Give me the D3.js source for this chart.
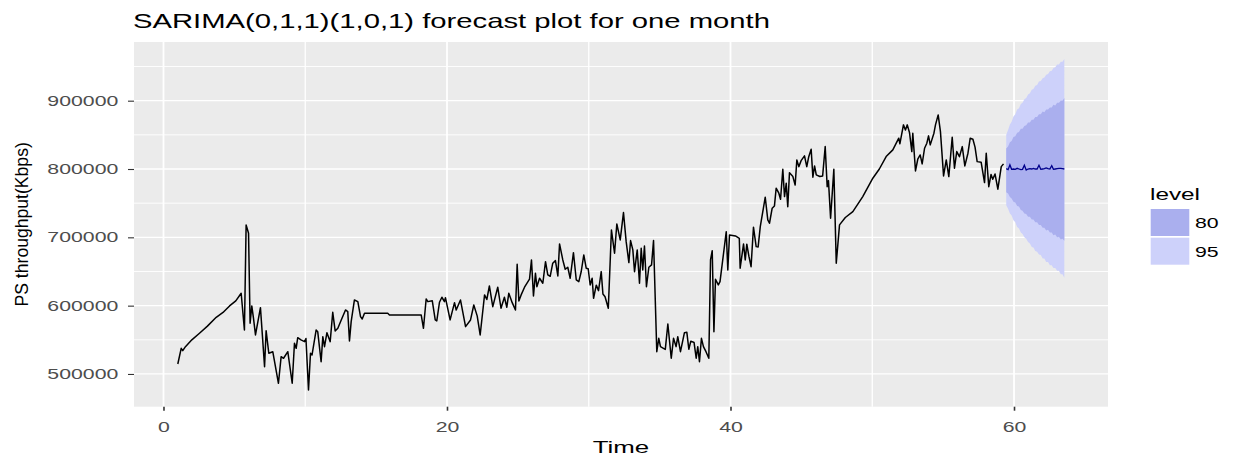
<!DOCTYPE html>
<html>
<head>
<meta charset="utf-8">
<script src="https://cdn.jsdelivr.net/npm/d3@7"></script>
<style>
  html, body { margin: 0; padding: 0; background: #ffffff; }
  svg { display: block; }
  text { font-family: "Liberation Sans", Arial, Helvetica, sans-serif; }
</style>
</head>
<body>
<svg id="chart" width="1233" height="457"></svg>
<script>
// ---------------- DATA ----------------
const chartTitle = "SARIMA(0,1,1)(1,0,1) forecast plot for one month";
const xLabel = "Time";
const yLabel = "PS throughput(Kbps)";
const legendTitle = "level";
const levels = ["80", "95"];
const levelColors = ["#aaafee", "#cdd1fa"];

const xTicks = [0, 20, 40, 60];
const xMinor = [10, 30, 50];
const yTicks = [500000, 600000, 700000, 800000, 900000];
const yMinor = [550000, 650000, 750000, 850000, 950000];

const histTime = [
  1.01, 1.25, 1.36, 1.55, 2.0, 2.54, 3.1, 3.72, 4.2, 4.66, 5.1, 5.48, 5.71, 5.83, 6.0, 6.11, 6.23, 6.35, 6.49, 6.84,
  7.13, 7.24, 7.43, 7.71, 8.11, 8.3, 8.47, 8.77, 9.08, 9.24, 9.36, 9.47, 9.7, 9.95, 10.05, 10.23, 10.37, 10.48, 10.77, 10.88,
  11.12, 11.24, 11.36, 11.53, 11.76, 11.94, 12.11, 12.3, 12.54, 12.84, 13.0, 13.12, 13.24, 13.47, 13.71, 13.9, 14.02, 14.18, 15.82, 15.94,
  18.18, 18.34, 18.53, 18.65, 18.96, 19.17, 19.28, 19.47, 19.64, 19.82, 19.89, 20.22, 20.53, 20.65, 20.95, 21.31, 21.66, 21.89, 22.13, 22.34,
  22.65, 22.81, 22.99, 23.23, 23.58, 23.81, 24.05, 24.22, 24.36, 24.6, 24.83, 24.95, 25.07, 25.23, 25.47, 25.82, 25.96, 26.1, 26.24, 26.34,
  26.53, 26.76, 26.95, 27.11, 27.28, 27.46, 27.65, 27.82, 27.94, 28.17, 28.34, 28.52, 28.69, 28.92, 29.12, 29.3, 29.47, 29.65, 29.82, 29.96,
  30.1, 30.24, 30.34, 30.53, 30.69, 30.88, 31.0, 31.15, 31.38, 31.6, 31.82, 31.98, 32.22, 32.45, 32.64, 32.83, 32.95, 33.11, 33.23, 33.42,
  33.58, 33.7, 33.81, 33.93, 34.07, 34.24, 34.43, 34.57, 34.8, 34.94, 35.06, 35.27, 35.4, 35.58, 35.82, 35.98, 36.16, 36.28, 36.47, 36.75,
  36.92, 37.06, 37.2, 37.43, 37.58, 37.69, 37.81, 37.95, 38.09, 38.27, 38.47, 38.59, 38.71, 38.83, 38.94, 39.14, 39.26, 39.7, 39.81, 39.93,
  40.35, 40.62, 40.68, 40.92, 41.04, 41.15, 41.3, 41.45, 41.62, 41.81, 41.95, 42.1, 42.45, 42.63, 42.75, 42.94, 43.1, 43.22, 43.41, 43.53,
  43.69, 43.81, 43.93, 44.04, 44.16, 44.4, 44.56, 44.68, 44.82, 44.98, 45.22, 45.38, 45.52, 45.69, 45.81, 45.93, 46.05, 46.3, 46.5, 46.68,
  46.82, 46.91, 47.06, 47.29, 47.46, 47.69, 48.1, 48.63, 49.33, 50.04, 50.5, 50.98, 51.45, 51.87, 51.95, 52.2, 52.34, 52.47, 52.63, 52.79,
  52.86, 53.05, 53.21, 53.38, 53.52, 53.69, 53.85, 53.97, 54.09, 54.35, 54.46, 54.65, 54.81, 55.03, 55.22, 55.4, 55.64, 55.8, 55.96, 56.15,
  56.35, 56.53, 56.75, 56.91, 57.1, 57.25, 57.4, 57.68, 57.92, 58.04, 58.22, 58.38, 58.5, 58.66, 58.86, 59.1, 59.26
];
const histValue = [
  514600, 537600, 534100, 540000, 550000, 559600, 570000, 583000, 590000, 599600, 607000, 618100, 564400, 718200, 706000, 574200, 599600, 581500, 557100, 597100,
  510700, 563400, 530300, 532600, 486400, 525300, 523000, 532600, 486400, 544900, 537600, 553100, 550000, 547300, 552000, 476600, 530300, 527800, 564400, 561900,
  518000, 554600, 540000, 560500, 547300, 590300, 563000, 566900, 579100, 593700, 591200, 548300, 576600, 608300, 605900, 583900, 580500, 588900, 588900, 586400,
  586400, 566900, 609800, 605900, 607300, 579100, 577600, 605000, 612300, 605900, 611700, 579100, 604400, 593700, 608300, 569300, 579100, 601000, 585000, 557100,
  615700, 609000, 628800, 598500, 627000, 596200, 612300, 597700, 618200, 604400, 593700, 660600, 606900, 615700, 627000, 638700, 666900, 614200, 647400, 627800,
  640100, 632800, 664400, 645000, 643000, 662100, 665900, 643500, 690300, 666900, 653300, 656200, 640100, 677600, 637600, 635100, 650000, 674200, 654800, 654000,
  630300, 640100, 610800, 630000, 622000, 649800, 617100, 613000, 596200, 710800, 676700, 719600, 696200, 736200, 693700, 663000, 695200, 681600, 649800, 681600,
  632800, 684000, 652300, 687400, 627800, 656200, 659600, 695200, 532600, 552200, 540000, 537600, 536000, 573200, 523000, 552200, 540000, 554600, 532600, 560500,
  561000, 536200, 548000, 546000, 523000, 540000, 518000, 552200, 540000, 532600, 523000, 666900, 680500, 561900, 638700, 630300, 635100, 708300, 652300, 703500,
  702000, 698600, 654800, 690300, 667000, 690000, 672000, 657100, 714800, 686400, 686000, 715700, 758700, 725500, 720600, 742600, 746000, 771900, 764600, 755800,
  799700, 759600, 779200, 744900, 794700, 788900, 776700, 813300, 803500, 812200, 819200, 803500, 818000, 829000, 788000, 804500, 791400, 789000, 789900, 832800,
  774200, 783000, 728000, 799700, 662100, 718200, 729000, 737600, 759600, 786500, 800000, 818200, 828000, 845100, 837000, 864600, 857200, 864600, 853000, 825500,
  852400, 797200, 814300, 820600, 807500, 830400, 837800, 848500, 835300, 852400, 864600, 879200, 854700, 789900, 813300, 788900, 846500, 801200, 825500, 818000,
  832800, 804500, 823100, 845100, 843600, 832000, 810800, 810000, 780100, 823100, 774200, 792000, 785000, 792800, 770400, 803500, 807500
];

const fcTime = [
  59.45, 59.58, 59.71, 59.83, 59.96, 60.09, 60.22, 60.35, 60.48, 60.6, 60.73, 60.86, 60.99, 61.12, 61.25, 61.37, 61.5,
  61.63, 61.76, 61.89, 62.02, 62.14, 62.27, 62.4, 62.53, 62.66, 62.78, 62.91, 63.04, 63.17, 63.3, 63.42, 63.55
];
const fcMean = [
  800500, 799000, 806000, 799500, 800000, 799500, 801000, 800000, 799000, 799500, 805500, 798500, 800000, 800500, 800000, 801000, 800000,
  800000, 805500, 799500, 800000, 800500, 801500, 800500, 800000, 805000, 799500, 800000, 800500, 801000, 801000, 800500, 800000
];
const hi95 = [
  850000, 857000, 865000, 869000, 877000, 880000, 887000, 889000, 895000, 897000, 902000, 904000, 909000, 911000, 916000, 917000, 922000,
  923000, 928000, 929000, 933000, 934000, 938000, 939000, 943000, 944000, 948000, 949000, 953000, 953000, 957000, 957000, 961000
];
const hi80 = [
  830000, 833000, 839000, 841000, 847000, 848000, 853000, 854000, 859000, 859000, 863000, 864000, 868000, 868000, 872000, 872000, 876000,
  876000, 880000, 880000, 884000, 883000, 887000, 887000, 890000, 890000, 894000, 893000, 897000, 897000, 900000, 900000, 904000
];
const lo80 = [
  766000, 764000, 759000, 757000, 752000, 751000, 746000, 745000, 740000, 739000, 735000, 734000, 730000, 730000, 726000, 726000, 722000,
  722000, 718000, 718000, 714000, 714000, 710000, 711000, 707000, 707000, 703000, 704000, 700000, 701000, 697000, 698000, 695000
];
const lo95 = [
  747000, 742000, 735000, 732000, 725000, 722000, 715000, 713000, 707000, 705000, 700000, 698000, 693000, 691000, 686000, 685000, 680000,
  679000, 675000, 674000, 669000, 669000, 664000, 664000, 659000, 659000, 655000, 655000, 651000, 651000, 646000, 646000, 641000
];

// ---------------- LAYOUT ----------------
const panel = { left: 134, right: 1108, top: 42, bottom: 406.7 };
const stretch = 1.52; // horizontal stretch of the text in the reference
const fontFamily = '"Liberation Sans", Arial, Helvetica, sans-serif';

const svg = d3.select("#chart");

const x = d3.scaleLinear().domain([-2.08, 66.63]).range([panel.left, panel.right]);
const y = d3.scaleLinear().domain([452100, 985900]).range([panel.bottom, panel.top]);

// panel background
svg.append("rect")
  .attr("x", panel.left).attr("y", panel.top)
  .attr("width", panel.right - panel.left).attr("height", panel.bottom - panel.top)
  .attr("fill", "#ebebeb");

const grid = svg.append("g");
// minor grid
grid.selectAll("line.ymin").data(yMinor).join("line")
  .attr("x1", panel.left).attr("x2", panel.right)
  .attr("y1", d => y(d)).attr("y2", d => y(d))
  .attr("stroke", "#ffffff").attr("stroke-width", 0.9);
grid.selectAll("line.xmin").data(xMinor).join("line")
  .attr("y1", panel.top).attr("y2", panel.bottom)
  .attr("x1", d => x(d)).attr("x2", d => x(d))
  .attr("stroke", "#ffffff").attr("stroke-width", 1.3);
// major grid
grid.selectAll("line.ymaj").data(yTicks).join("line")
  .attr("x1", panel.left).attr("x2", panel.right)
  .attr("y1", d => y(d)).attr("y2", d => y(d))
  .attr("stroke", "#ffffff").attr("stroke-width", 1.3);
grid.selectAll("line.xmaj").data(xTicks).join("line")
  .attr("y1", panel.top).attr("y2", panel.bottom)
  .attr("x1", d => x(d)).attr("x2", d => x(d))
  .attr("stroke", "#ffffff").attr("stroke-width", 1.8);

// forecast bands
const fcData = fcTime.map((t, i) => ({ t, m: fcMean[i], l80: lo80[i], h80: hi80[i], l95: lo95[i], h95: hi95[i] }));
svg.append("path").datum(fcData)
  .attr("fill", levelColors[1])
  .attr("d", d3.area().x(d => x(d.t)).y0(d => y(d.l95)).y1(d => y(d.h95)));
svg.append("path").datum(fcData)
  .attr("fill", levelColors[0])
  .attr("d", d3.area().x(d => x(d.t)).y0(d => y(d.l80)).y1(d => y(d.h80)));

// historical series
const hist = histTime.map((t, i) => ({ t, v: histValue[i] }));
svg.append("path").datum(hist)
  .attr("fill", "none").attr("stroke", "#000000").attr("stroke-width", 1.5)
  .attr("stroke-linejoin", "round")
  .attr("d", d3.line().x(d => x(d.t)).y(d => y(d.v)));

// forecast mean
svg.append("path").datum(fcData)
  .attr("fill", "none").attr("stroke", "#00008b").attr("stroke-width", 1.3)
  .attr("d", d3.line().x(d => x(d.t)).y(d => y(d.m)));

// axes
const yAxis = svg.append("g")
  .attr("transform", `translate(${panel.left},0)`)
  .call(d3.axisLeft(y).tickValues(yTicks).tickSize(6).tickPadding(4.3).tickFormat(d3.format("d")));
yAxis.select(".domain").remove();
yAxis.selectAll(".tick line").attr("stroke", "#333333").attr("stroke-width", 1.1);
yAxis.selectAll(".tick text")
  .attr("fill", "#4d4d4d").attr("font-size", 14).attr("font-family", fontFamily)
  .attr("transform", `scale(${stretch},1)`);

const xAxis = svg.append("g")
  .attr("transform", `translate(0,${panel.bottom})`)
  .call(d3.axisBottom(x).tickValues(xTicks).tickSize(4).tickPadding(11));
xAxis.select(".domain").remove();
xAxis.selectAll(".tick line").attr("stroke", "#333333").attr("stroke-width", 1.6);
xAxis.selectAll(".tick text")
  .attr("fill", "#4d4d4d").attr("font-size", 14).attr("font-family", fontFamily)
  .attr("transform", `scale(${stretch},1)`);

// titles
svg.append("text")
  .attr("x", 133).attr("y", 28.3)
  .attr("font-size", 21).attr("fill", "#000")
  .attr("textLength", 637).attr("lengthAdjust", "spacingAndGlyphs")
  .text(chartTitle);

svg.append("text")
  .attr("transform", `translate(${(panel.left + panel.right) / 2},452.5) scale(${stretch},1)`)
  .attr("text-anchor", "middle").attr("font-size", 17).attr("fill", "#000")
  .text(xLabel);

svg.append("text")
  .attr("transform", `translate(27.5,${(panel.top + panel.bottom) / 2}) rotate(-90)`)
  .attr("text-anchor", "middle").attr("font-size", 17.6).attr("fill", "#000")
  .text(yLabel);

// legend
const legend = svg.append("g").attr("transform", "translate(1150,0)");
legend.append("text")
  .attr("transform", `translate(0,200) scale(${stretch},1)`)
  .attr("font-size", 16).attr("fill", "#000")
  .text(legendTitle);
const keyH = 27, keyW = 38.6, keyTop = 209, keyGap = 1.7;
legend.selectAll("rect.key").data(levels).join("rect")
  .attr("x", 0.7).attr("y", (d, i) => keyTop + i * (keyH + keyGap))
  .attr("width", keyW).attr("height", keyH)
  .attr("fill", (d, i) => levelColors[i]);
legend.selectAll("text.lab").data(levels).join("text")
  .attr("transform", (d, i) => `translate(45,${keyTop + i * (keyH + keyGap) + keyH / 2 + 5.5}) scale(${stretch},1)`)
  .attr("font-size", 14).attr("fill", "#000")
  .text(d => d);
</script>
</body>
</html>
